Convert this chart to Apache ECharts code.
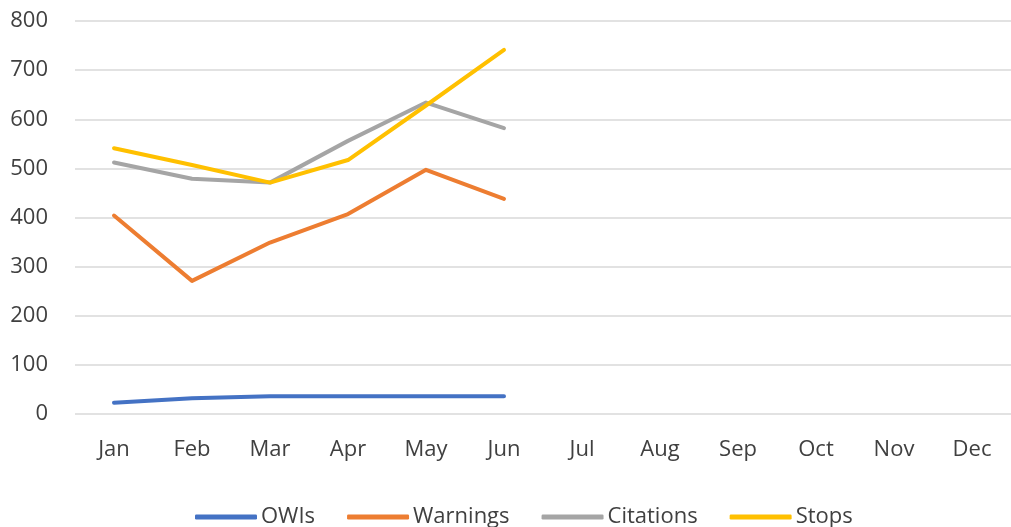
<!DOCTYPE html>
<html>
<head>
<meta charset="utf-8">
<script src="https://cdn.jsdelivr.net/npm/echarts@6/dist/echarts.min.js"></script>
<style>
    html, body { margin: 0; padding: 0; background: #fff; }
    #chart { width: 1011px; height: 527px; }
</style>
</head>
<body>
<div id="chart"></div>
<script>
/**
 * Chart data
 */
let months = ['Jan', 'Feb', 'Mar', 'Apr', 'May', 'Jun', 'Jul', 'Aug', 'Sep', 'Oct', 'Nov', 'Dec'];
let owis = [23, 32, 36, 36, 36, 36];
let warnings = [404, 271, 349, 407, 497, 438];
let citations = [512, 479, 471, 556, 634, 582];
let stops = [541, 507, 471, 517, 628, 741];

let seriesNames = ['OWIs', 'Warnings', 'Citations', 'Stops'];
let seriesColors = ['#4472C4', '#ED7D31', '#A5A5A5', '#FFC000'];

let textFont = '"Open Sans", "Noto Sans", sans-serif';

function lineSeries(name, values, color) {
    return {
        name: name,
        type: 'line',
        data: values,
        symbol: 'none',
        smooth: false,
        lineStyle: { color: color, width: 4, cap: 'round', join: 'round' },
        itemStyle: { color: color }
    };
}

let chart = echarts.init(document.getElementById('chart'));

chart.setOption({
    animation: false,
    textStyle: { fontFamily: textFont },
    grid: { left: 75, top: 21, width: 946, height: 393, containLabel: false },
    legend: {
        top: 501,
        left: 190,
        itemWidth: 62,
        itemHeight: 5,
        itemGap: 32,
        icon: 'roundRect',
        textStyle: { fontSize: 22, color: '#404040', fontFamily: textFont, padding: [0, 0, 0, -1] },
        data: seriesNames
    },
    xAxis: {
        type: 'category',
        data: months,
        boundaryGap: true,
        axisLine: { show: false },
        axisTick: { show: false },
        axisLabel: { color: '#404040', fontSize: 22, margin: 25 }
    },
    yAxis: {
        type: 'value',
        min: 0,
        max: 800,
        interval: 100,
        axisLine: { show: false },
        axisTick: { show: false },
        axisLabel: { color: '#404040', fontSize: 22, margin: 27 },
        splitLine: { lineStyle: { color: '#d9d9d9', width: 1.5 } }
    },
    series: [
        lineSeries(seriesNames[0], owis, seriesColors[0]),
        lineSeries(seriesNames[1], warnings, seriesColors[1]),
        lineSeries(seriesNames[2], citations, seriesColors[2]),
        lineSeries(seriesNames[3], stops, seriesColors[3])
    ]
});
</script>
</body>
</html>
